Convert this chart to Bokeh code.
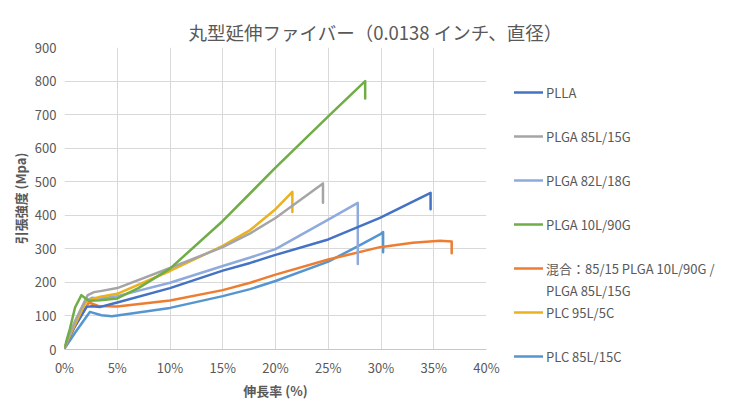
from bokeh.plotting import figure
from bokeh.models import (Range1d, Legend, LegendItem, SingleIntervalTicker,
                          PrintfTickFormatter, LinearAxis, FixedTicker)
from bokeh.embed import file_html
from bokeh.resources import INLINE

FONT = "Noto Sans CJK JP"
TXT = "#595959"

title_text = "丸型延伸ファイバー（0.0138 インチ、直径）"
x_label = "伸長率 (%)"
y_label = "引張強度 (Mpa)"

# strain (%) / tensile strength (MPa)
plla_x = [0, 1, 2.1, 2.6, 3.4, 5, 10, 15, 17.6, 20, 25, 29.9, 34.7, 34.7]
plla_y = [6, 70, 127, 129, 127, 140, 183, 235, 258, 282, 328, 392, 467, 418]

plga8515_x = [0, 1, 2.2, 2.8, 3.4, 5, 10, 15, 17.6, 20, 24.5, 24.5]
plga8515_y = [6, 85, 162, 171, 174, 183, 243, 305, 346, 392, 495, 437]

plga8218_x = [0, 1, 2, 2.6, 3.4, 5, 10, 15, 17.6, 20, 25, 27.8, 27.8]
plga8218_y = [6, 75, 145, 154, 152, 159, 199, 249, 274, 299, 387, 437, 255]

plga1090_x = [0, 0.5, 1, 1.6, 2.3, 3.4, 5, 7, 10, 15, 20, 25, 28.5, 28.5]
plga1090_y = [6, 60, 125, 162, 145, 147, 152, 183, 241, 383, 542, 695, 800, 748]

blend_x = [0, 1, 2.3, 3.2, 5, 10, 15, 17.6, 20, 25, 29.9, 33, 35.6, 36.7, 36.7]
blend_y = [6, 70, 140, 130, 128, 146, 177, 199, 223, 268, 305, 318, 324, 322, 287]

plc955_x = [0, 1, 2, 2.6, 3.4, 5, 10, 15, 17.6, 20, 21.6, 21.6]
plc955_y = [6, 75, 140, 150, 157, 166, 234, 309, 356, 418, 470, 410]

plc8515_x = [0, 1, 2.4, 3.5, 4.5, 10, 15, 17.6, 20, 25, 27.7, 29.9, 30.2, 30.2]
plc8515_y = [3, 50, 112, 102, 99, 124, 159, 180, 204, 262, 306, 343, 350, 290]

names = ["PLLA", "PLGA 85L/15G", "PLGA 82L/18G", "PLGA 10L/90G",
         "混合：85/15 PLGA 10L/90G /", "PLC 95L/5C", "PLC 85L/15C"]
name_second_line = "PLGA 85L/15G"
colors = ["#4472C4", "#A5A5A5", "#8FAADC", "#70AD47", "#ED7D31", "#EBB11E", "#5596D0"]
xs = [plla_x, plga8515_x, plga8218_x, plga1090_x, blend_x, plc955_x, plc8515_x]
ys = [plla_y, plga8515_y, plga8218_y, plga1090_y, blend_y, plc955_y, plc8515_y]
order = [6, 4, 2, 0, 5, 1, 3]

p = figure(frame_width=422, frame_height=302, output_backend="svg", toolbar_location=None,
           x_range=Range1d(0, 40), y_range=Range1d(0, 900),
           min_border_left=64, min_border_right=234,
           min_border_top=47, min_border_bottom=53)
p.title.text = title_text
p.title.align = "left"
p.title.offset = 124
p.title.vertical_align = "top"
p.title.standoff = 2
p.title.text_font = FONT
p.title.text_font_size = "18.5px"
p.title.text_color = TXT
p.title.text_font_style = "normal"

xax = p.below[0]
yax = p.left[0]

# empty axis (no ticks, no labels, no line) that only keeps the title away from the frame
gap_axis = LinearAxis(ticker=FixedTicker(ticks=[]), axis_line_color=None,
                      major_tick_line_color=None, minor_tick_line_color=None,
                      major_tick_out=16, major_tick_in=0, minor_tick_out=0,
                      minor_tick_in=0, major_label_standoff=0)
p.add_layout(gap_axis, "above")

p.outline_line_color = None
p.background_fill_color = "white"
p.border_fill_color = "white"

renderers = {}
for i in order:
    r = p.line(xs[i], ys[i], line_color=colors[i], line_width=2.5,
               line_join="round", line_cap="round")
    renderers[i] = r

blank = p.line(blend_x[:1], blend_y[:1], line_alpha=0)

xt = SingleIntervalTicker(interval=5)
yt = SingleIntervalTicker(interval=100)
xax.ticker = xt
yax.ticker = yt
p.xgrid.ticker = xt
p.ygrid.ticker = yt
xax.formatter = PrintfTickFormatter(format="%d%%")
for g in (p.xgrid, p.ygrid):
    g.grid_line_color = "#D9D9D9"
    g.grid_line_width = 1

for ax in (xax, yax):
    ax.major_tick_line_color = None
    ax.minor_tick_line_color = None
    ax.major_tick_out = 0
    ax.major_tick_in = 0
    ax.minor_tick_out = 0
    ax.minor_tick_in = 0
    ax.major_label_text_font = FONT
    ax.major_label_text_font_size = "13px"
    ax.major_label_text_color = TXT
    ax.axis_label_text_font = FONT
    ax.axis_label_text_font_size = "13px"
    ax.axis_label_text_font_style = "bold"
    ax.axis_label_text_color = TXT
xax.axis_line_color = "#C8C8C8"
yax.axis_line_color = None
xax.axis_label = x_label
yax.axis_label = y_label
xax.major_label_standoff = 8
yax.major_label_standoff = 8
xax.axis_label_standoff = 1
yax.axis_label_standoff = 2

# legend: one row per 22 px; series rows separated by a blank row,
# the blend's label continues on its own row
rows = []
for i in range(7):
    rows.append(LegendItem(label=names[i], renderers=[renderers[i]]))
    if i == 4:
        rows.append(LegendItem(label=name_second_line, renderers=[blank]))
    elif i < 6:
        rows.append(LegendItem(label=" ", renderers=[blank]))

leg = Legend(items=rows, location=(28, -17))
leg.label_text_font = FONT
leg.label_text_font_size = "13px"
leg.label_text_color = TXT
leg.glyph_width = 29
leg.glyph_height = 20
leg.label_height = 20
leg.label_standoff = 3
leg.spacing = 2
leg.padding = 0
leg.margin = 0
leg.border_line_color = None
leg.background_fill_alpha = 0
p.add_layout(leg, "right")

open("out.html", "w").write(file_html(p, INLINE))
